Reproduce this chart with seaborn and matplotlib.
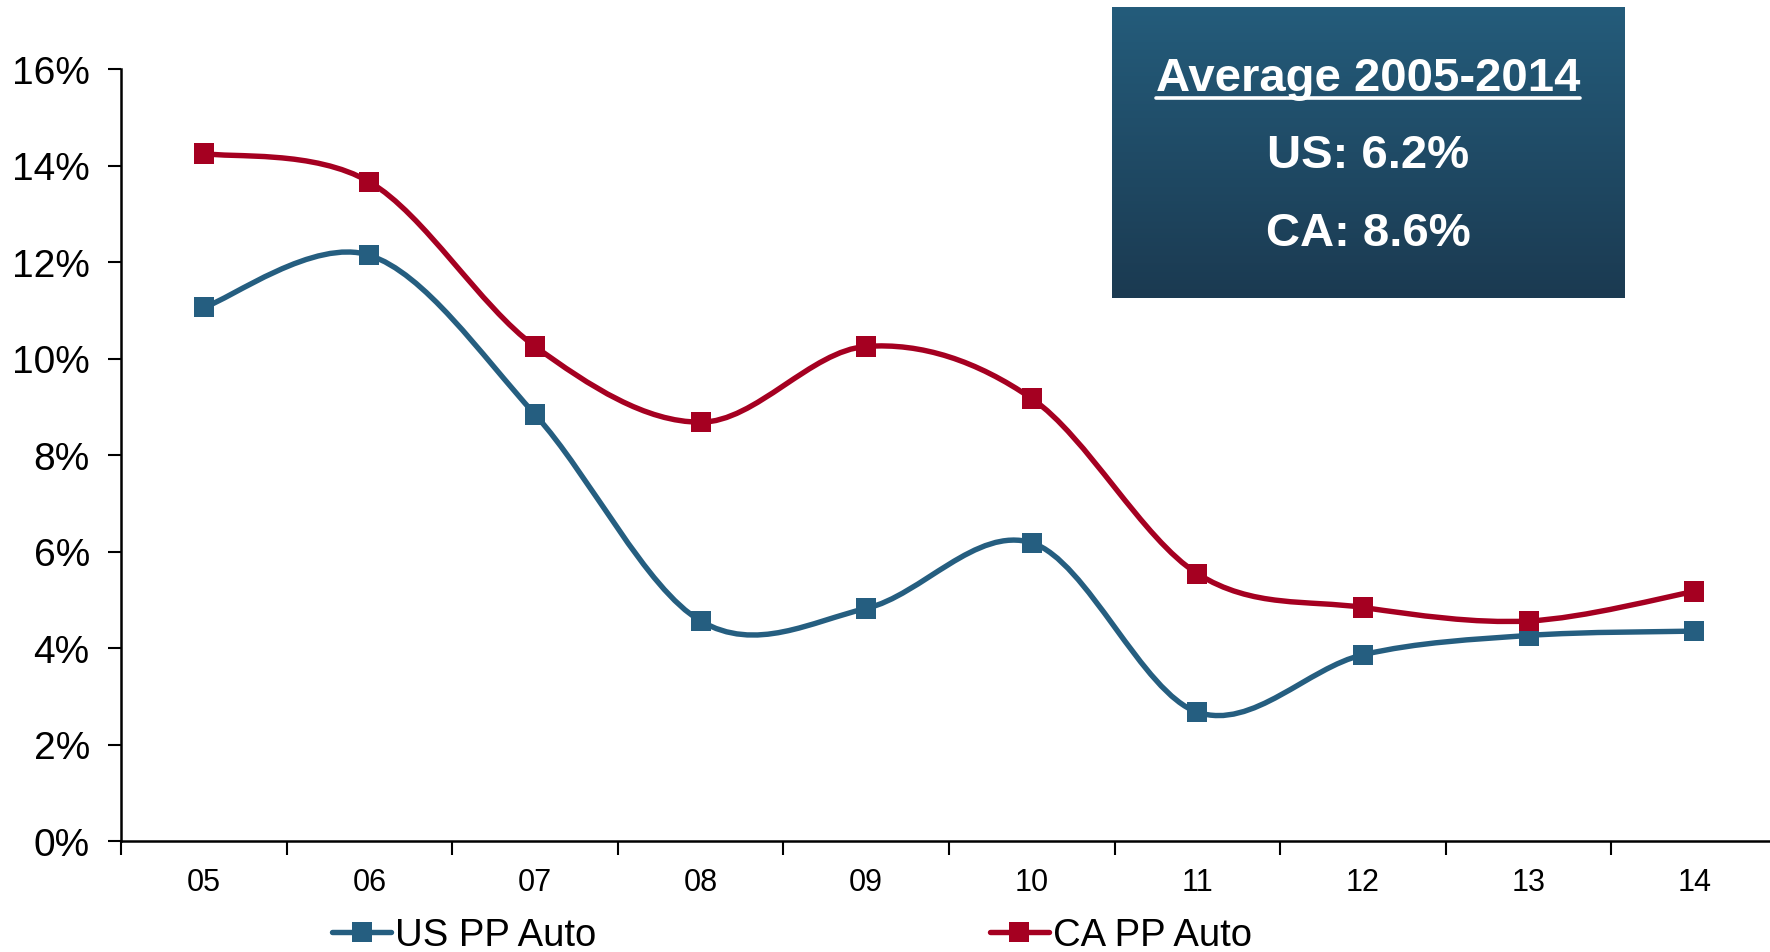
import numpy as np
import pandas as pd
import matplotlib
matplotlib.use("Agg")
import matplotlib.pyplot as plt
import seaborn as sns
from matplotlib.path import Path
from matplotlib.patches import PathPatch
from matplotlib.lines import Line2D

# ---- data -------------------------------------------------------------
years = ["05", "06", "07", "08", "09", "10", "11", "12", "13", "14"]
us_pp_auto = [11.06, 12.14, 8.84, 4.56, 4.82, 6.18, 2.67, 3.86, 4.26, 4.35]
ca_pp_auto = [14.25, 13.66, 10.25, 8.68, 10.25, 9.17, 5.54, 4.84, 4.56, 5.17]
series_names = ["US PP Auto", "CA PP Auto"]
y_ticks = [0, 2, 4, 6, 8, 10, 12, 14, 16]
box_title = "Average 2005-2014"
box_lines = ["US: 6.2%", "CA: 8.6%"]

US_COLOR = "#255E80"
CA_COLOR = "#A50021"

sns.set_theme(style="white")
plt.rcParams["font.family"] = ["Liberation Sans", "DejaVu Sans"]

df = pd.DataFrame({
    "year": years * 2,
    "pos": list(range(len(years))) * 2,
    "value": us_pp_auto + ca_pp_auto,
    "series": [series_names[0]] * len(years) + [series_names[1]] * len(years),
})

fig = plt.figure(figsize=(17.7, 9.53), dpi=100)
ax = fig.add_axes([121 / 1770, 1 - 842 / 953, 1656 / 1770, 772 / 953])


def smooth_path(xs, ys, tension=1 / 6):
    """Cubic Bezier path through the points (Catmull-Rom style smoothing)."""
    pts = np.column_stack([xs, ys]).astype(float)
    n = len(pts)
    verts = [pts[0]]
    codes = [Path.MOVETO]
    for i in range(n - 1):
        p0 = pts[max(i - 1, 0)]
        p1 = pts[i]
        p2 = pts[i + 1]
        p3 = pts[min(i + 2, n - 1)]
        c1 = p1 + (p2 - p0) * tension
        c2 = p2 - (p3 - p1) * tension
        verts += [c1, c2, p2]
        codes += [Path.CURVE4] * 3
    return Path(verts, codes)


LINE_W = 3.9
MARKER = 14.5

palette = {series_names[0]: US_COLOR, series_names[1]: CA_COLOR}
for name in series_names:
    sub = df[df["series"] == name]
    patch = PathPatch(smooth_path(sub["pos"].values, sub["value"].values),
                      facecolor="none", edgecolor=palette[name], lw=LINE_W,
                      capstyle="round", joinstyle="round", zorder=2)
    ax.add_patch(patch)

sns.scatterplot(data=df, x="pos", y="value", hue="series", palette=palette,
                marker="s", s=MARKER ** 2, linewidth=0, legend=False, ax=ax,
                zorder=3)

# ---- axes -------------------------------------------------------------
ax.set_xlim(-0.5, len(years) - 0.5)
ax.set_ylim(0, 16)
ax.set_xlabel("")
ax.set_ylabel("")
ax.set_yticks(y_ticks)
ax.set_yticklabels([f"{t}%" for t in y_ticks])
ax.set_xticks(np.arange(-0.5, len(years), 1.0))
ax.set_xticklabels([])
ax.set_xticks(np.arange(len(years)), minor=True)
ax.set_xticklabels(years, minor=True)
ax.tick_params(axis="x", which="major", direction="out", length=10,
               width=1.5, color="black", bottom=True)
ax.tick_params(axis="x", which="minor", length=0, labelsize=22, pad=19,
               labelcolor="black", bottom=True)
ax.tick_params(axis="y", direction="out", length=9.5, width=1.5,
               color="black", labelsize=28, pad=13, labelcolor="black",
               left=True)
for side in ["top", "right"]:
    ax.spines[side].set_visible(False)
for side in ["left", "bottom"]:
    ax.spines[side].set_color("black")
    ax.spines[side].set_linewidth(1.8)
ax.grid(False)
ax.set_facecolor("white")

# ---- legend -----------------------------------------------------------
handles = [Line2D([], [], color=palette[n], lw=LINE_W, marker="s",
                  markersize=MARKER, markeredgewidth=0) for n in series_names]
fig.legend(handles, series_names, loc="center",
           bbox_to_anchor=(792 / 1770, 1 - 936 / 953), ncol=2,
           frameon=False, fontsize=27.5, handlelength=1.55,
           handletextpad=0.1, columnspacing=10.3, borderaxespad=0,
           labelcolor="black")

# ---- summary box with vertical gradient -------------------------------
bx = fig.add_axes([1112 / 1770, 1 - 299 / 953, 512 / 1770, 291 / 953])
top = np.array([36, 92, 123]) / 255
bottom = np.array([27, 58, 81]) / 255
t = np.linspace(0, 1, 256)[:, None, None]
grad = top[None, None, :] * (1 - t) + bottom[None, None, :] * t
bx.imshow(grad, aspect="auto", extent=[0, 1, 0, 1])
bx.set_axis_off()

cx = 1368 / 1770
title = fig.text(cx, 1 - 91 / 953, box_title, ha="center", va="baseline",
                 color="white", fontsize=34, fontweight="bold")
fig.text(cx, 1 - 168 / 953, box_lines[0], ha="center", va="baseline",
         color="white", fontsize=34, fontweight="bold")
fig.text(cx, 1 - 246 / 953, box_lines[1], ha="center", va="baseline",
         color="white", fontsize=34, fontweight="bold")

fig.canvas.draw()
bb = title.get_window_extent().transformed(fig.transFigure.inverted())
uy = 1 - 99 / 953
fig.add_artist(Line2D([bb.x0, bb.x1], [uy, uy], transform=fig.transFigure,
                      color="white", lw=2.6))

fig.savefig("out.png", dpi=100)
